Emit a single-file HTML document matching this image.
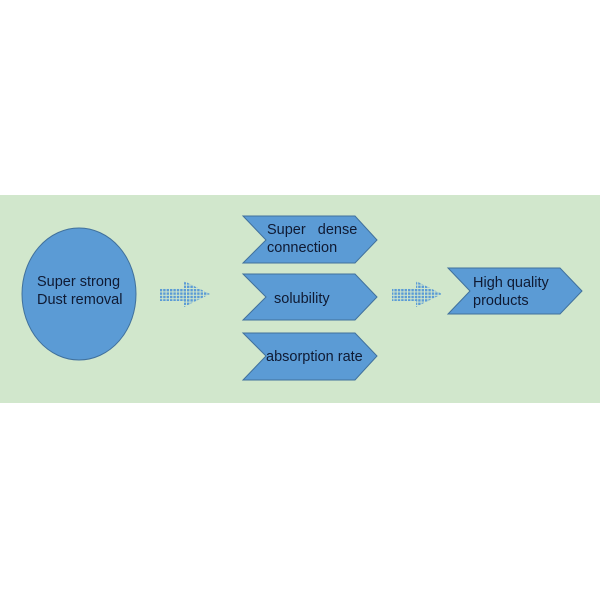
<!DOCTYPE html>
<html>
<head>
<meta charset="utf-8">
<style>
html,body{margin:0;padding:0;background:#fff;}
svg{display:block;}
text{font-family:"Liberation Sans",sans-serif;font-size:14.5px;fill:#0f1a33;}
</style>
</head>
<body>
<svg width="600" height="600" viewBox="0 0 600 600" xmlns="http://www.w3.org/2000/svg">
  <defs>
    <pattern id="dots" x="0" y="0" width="3.4" height="3.4" patternUnits="userSpaceOnUse">
      <rect x="0" y="0" width="2.4" height="2.4" fill="#5b9bd5"/>
    </pattern>
  </defs>
  <rect x="0" y="0" width="600" height="600" fill="#ffffff"/>
  <rect x="0" y="195" width="600" height="208" fill="#d1e7cc"/>

  <!-- ellipse -->
  <ellipse cx="79" cy="294" rx="57" ry="66" fill="#5b9bd5" stroke="#41719c" stroke-width="1"/>
  <text x="37" y="286">Super strong</text>
  <text x="37" y="304">Dust removal</text>

  <!-- dotted arrow 1 -->
  <g>
    <rect x="160" y="288" width="26" height="13" fill="url(#dots)"/>
    <polygon points="184,281 210,294 184,307" fill="url(#dots)"/>
  </g>

  <!-- chevrons -->
  <polygon points="243,216 355,216 377,240 355,263 243,263 266,240" fill="#5b9bd5" stroke="#41719c" stroke-width="1"/>
  <text x="267" y="234">Super&#160;&#160; dense</text>
  <text x="267" y="252">connection</text>

  <polygon points="243,274 355,274 377,297 355,320 243,320 266,297" fill="#5b9bd5" stroke="#41719c" stroke-width="1"/>
  <text x="274" y="303">solubility</text>

  <polygon points="243,333 355,333 377,356 355,380 243,380 266,356" fill="#5b9bd5" stroke="#41719c" stroke-width="1"/>
  <text x="266" y="361">absorption rate</text>

  <!-- dotted arrow 2 -->
  <g>
    <rect x="392" y="288" width="26" height="13" fill="url(#dots)"/>
    <polygon points="416,281 442,294 416,307" fill="url(#dots)"/>
  </g>

  <!-- final chevron -->
  <polygon points="448,268 560,268 582,291 560,314 448,314 470,291" fill="#5b9bd5" stroke="#41719c" stroke-width="1"/>
  <text x="473" y="287">High quality</text>
  <text x="473" y="305">products</text>
</svg>
</body>
</html>
